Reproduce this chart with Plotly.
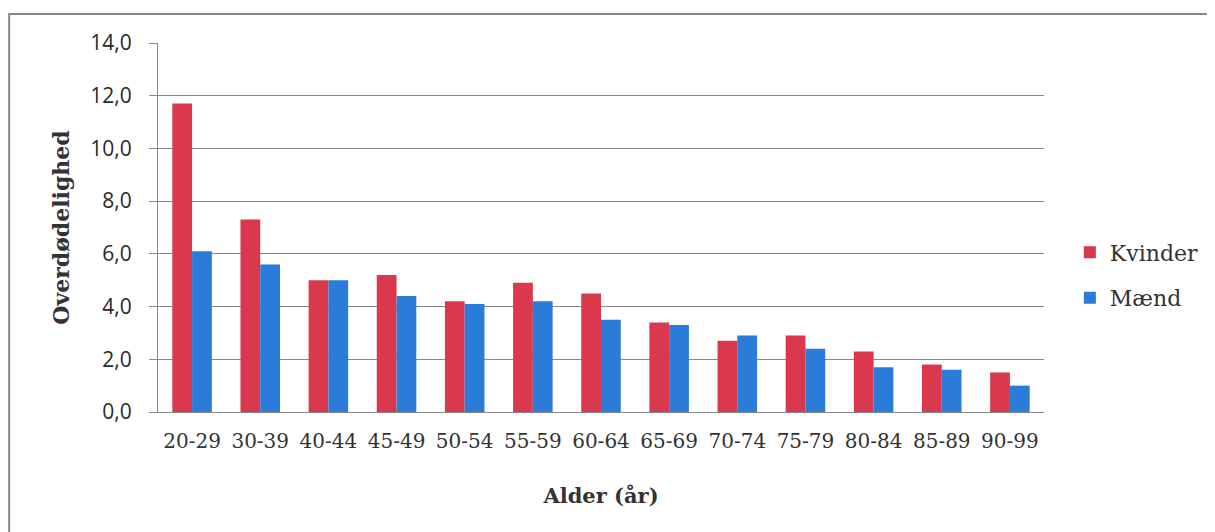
import plotly.graph_objects as go

categories = ["20-29", "30-39", "40-44", "45-49", "50-54", "55-59", "60-64",
              "65-69", "70-74", "75-79", "80-84", "85-89", "90-99"]
kvinder = [11.7, 7.3, 5.0, 5.2, 4.2, 4.9, 4.5, 3.4, 2.7, 2.9, 2.3, 1.8, 1.5]
maend = [6.1, 5.6, 5.0, 4.4, 4.1, 4.2, 3.5, 3.3, 2.9, 2.4, 1.7, 1.6, 1.0]
y_ticks = [0, 2, 4, 6, 8, 10, 12, 14]

W, H = 1215, 532
OFF = 8  # page body margin
L, R, T, B = 158, 1045, 43, 412

def px(x):
    return (x - L) / (R - L)

def py(y):
    return (B - y) / (B - T)

fig = go.Figure()
fig.add_trace(go.Bar(x=categories, y=kvinder, name="Kvinder",
                     marker=dict(color="#D9384D", line=dict(width=0)),
                     legendgroup="k"))
fig.add_trace(go.Bar(x=categories, y=maend, name="Mænd",
                     marker=dict(color="#2B7BD8", line=dict(width=0)),
                     legendgroup="m"))

serif = "DejaVu Serif, Liberation Serif, serif"
fig.update_layout(
    width=W - OFF, height=H - OFF,
    margin=dict(l=L - OFF, r=W - R, t=T - OFF, b=H - B),
    paper_bgcolor="white", plot_bgcolor="white",
    barmode="group", bargap=0.42, bargroupgap=0,
    separators=",.",
    font=dict(family=serif, color="#333"),
    showlegend=True,
    legend=dict(x=1.028, y=0.37, xanchor="left", yanchor="middle",
                font=dict(family=serif, size=22, color="#333"),
                tracegroupgap=14, itemwidth=30, bgcolor="rgba(0,0,0,0)"),
    xaxis=dict(showgrid=False, showline=True, linecolor="#888", linewidth=1,
               ticks="", tickfont=dict(family=serif, size=20, color="#333"),
               ticklabelstandoff=11,
               title=dict(text="<b>Alder (år)</b>", standoff=36,
                          font=dict(family=serif, size=21, color="#333"))),
    yaxis=dict(range=[0, 14], tickvals=y_ticks, tickformat=".1f",
               showgrid=True, gridcolor="#8a8a8a", gridwidth=1,
               showline=True, linecolor="#888", linewidth=1,
               ticks="outside", ticklen=8, tickcolor="#888",
               tickfont=dict(family="Open Sans", size=21, color="#2a2a2a"),
               ticklabelstandoff=13, zeroline=False,
               title=dict(text="<b>Overdødelighed</b>", standoff=14,
                          font=dict(family=serif, size=22, color="#333"))),
    shapes=[dict(type="rect", xref="paper", yref="paper",
                 x0=px(9), x1=px(1230), y0=py(545), y1=py(14),
                 line=dict(color="#888", width=2), fillcolor="rgba(0,0,0,0)",
                 layer="below")],
)

fig.write_html("out.html")
